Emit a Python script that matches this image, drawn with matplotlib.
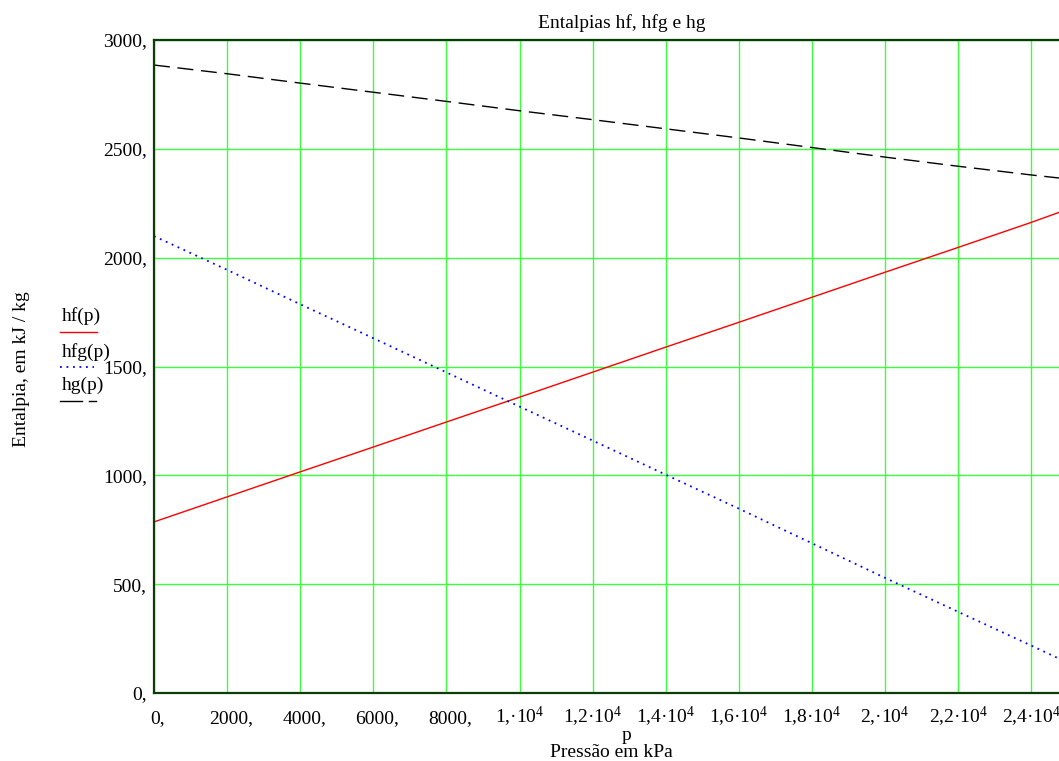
import matplotlib
matplotlib.use("Agg")
import matplotlib.pyplot as plt
import matplotlib.transforms as mtransforms
from matplotlib.lines import Line2D

plt.rcParams["font.family"] = ["Liberation Serif", "DejaVu Serif"]
plt.rcParams["mathtext.fontset"] = "custom"
plt.rcParams["mathtext.rm"] = "Liberation Serif"
plt.rcParams["mathtext.it"] = "Liberation Serif:italic"

# Pressure (kPa) and enthalpies (kJ/kg)
p = [0, 2000, 4000, 6000, 8000, 10000, 12000, 14000, 16000, 18000,
     20000, 22000, 24000, 24760]
hf = [786, 901, 1016, 1130, 1245, 1359, 1474, 1589, 1703, 1818,
      1933, 2047, 2162, 2208]
hg = [2885, 2845, 2802, 2760, 2718, 2675, 2634, 2592, 2550, 2506,
      2462, 2420, 2380, 2366]
hfg = [2099, 1944, 1786, 1630, 1473, 1316, 1160, 1003, 847, 688,
       529, 373, 218, 158]

x_ticks = [0, 2000, 4000, 6000, 8000, 10000, 12000, 14000, 16000, 18000,
           20000, 22000, 24000]
x_labels = ["0,", "2000,", "4000,", "6000,", "8000,",
            "1,·10$^{4}$", "1,2·10$^{4}$", "1,4·10$^{4}$", "1,6·10$^{4}$",
            "1,8·10$^{4}$", "2,·10$^{4}$", "2,2·10$^{4}$", "2,4·10$^{4}$"]
y_ticks = [0, 500, 1000, 1500, 2000, 2500, 3000]
y_labels = ["0,", "500,", "1000,", "1500,", "2000,", "2500,", "3000,"]

W, H = 1059, 761
fig = plt.figure(figsize=(W / 100, H / 100), dpi=100)
ax = fig.add_axes([154 / W, (H - 693) / H, (W - 154) / W, (693 - 40) / H])

grid_color = "#3cff3c"
frame_color = "#0b3d0b"
fs = 14

ax.plot(p, hf, color="#ff0000", lw=1.0, zorder=3)
ax.plot(p, hfg, color="#0000ff", lw=1.3, linestyle=(0, (1.0, 2.6)), zorder=3)
ax.plot(p, hg, color="black", lw=1.0, linestyle=(0, (11.5, 5.5)), zorder=3)

ax.set_xlim(0, 24760)
ax.set_ylim(0, 3000)

ax.set_xticks(x_ticks)
ax.set_xticklabels(x_labels, fontsize=fs)
ax.set_yticks(y_ticks)
ax.set_yticklabels(y_labels, fontsize=fs)
ax.tick_params(axis="both", length=0)
ax.tick_params(axis="x", pad=21.5)
ax.tick_params(axis="y", pad=5)

for lab in ax.get_xticklabels():
    lab.set_verticalalignment("baseline")
    if "$" not in lab.get_text():
        lab.set_transform(lab.get_transform() +
                          mtransforms.ScaledTranslation(4 / 100, 0, fig.dpi_scale_trans))

ax.grid(True, color=grid_color, lw=1.0, zorder=1)
ax.set_axisbelow(True)

for side in ("left", "bottom", "top"):
    ax.spines[side].set_color(frame_color)
    ax.spines[side].set_linewidth(1.6)
    ax.spines[side].set_zorder(4)
ax.spines["right"].set_visible(False)

fig.text(622 / W, 1 - 23 / H, "Entalpias hf, hfg e hg", ha="center", va="center", fontsize=fs)
fig.text(627 / W, 1 - 740 / H, "p", ha="center", va="baseline", fontsize=fs)
fig.text(611 / W, 1 - 757 / H, "Pressão em kPa", ha="center", va="baseline", fontsize=fs)
fig.text(22 / W, 1 - 369 / H, "Entalpia, em kJ / kg", ha="center", va="center",
         rotation=90, fontsize=fs)

# Legend: name above a sample of each line style
def fy(y):
    return 1 - y / H

def fx(x):
    return x / W

fig.text(fx(62), fy(316), "hf(p)", ha="left", va="center", fontsize=fs)
fig.add_artist(Line2D([fx(60), fx(97)], [fy(332), fy(332)], color="#ff0000", lw=1.0))
fig.text(fx(62), fy(352), "hfg(p)", ha="left", va="center", fontsize=fs)
fig.add_artist(Line2D([fx(60), fx(94)], [fy(367), fy(367)], color="#0000ff", lw=1.3,
                      linestyle=(0, (1.0, 2.6))))
fig.text(fx(62), fy(385), "hg(p)", ha="left", va="center", fontsize=fs)
fig.add_artist(Line2D([fx(60), fx(82)], [fy(401), fy(401)], color="black", lw=1.0))
fig.add_artist(Line2D([fx(89), fx(96)], [fy(401), fy(401)], color="black", lw=1.0))

fig.savefig("out.png", dpi=100)
